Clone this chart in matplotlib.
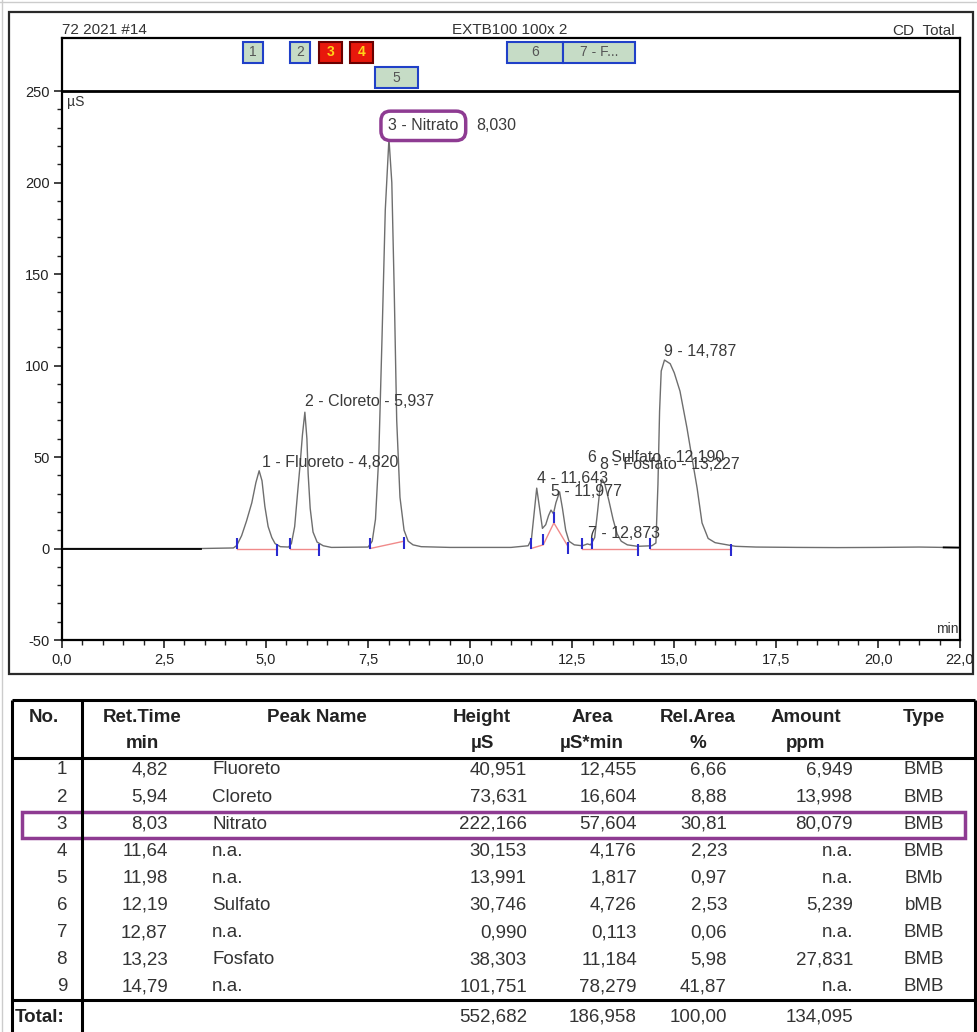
import matplotlib
matplotlib.use("Agg")
import matplotlib.pyplot as plt
from matplotlib.patches import Rectangle
from matplotlib.ticker import FixedLocator, FuncFormatter

plt.rcParams['font.family'] = ['Liberation Sans', 'DejaVu Sans']

# ---- cromatograma (tempo em min, sinal em uS) ----
trace_t = [0.0, 3.4, 4.2, 4.28, 4.4, 4.52, 4.65, 4.75, 4.83, 4.9, 4.97, 5.05, 5.14, 5.22, 5.35,
           5.55, 5.62, 5.7, 5.77, 5.83, 5.89, 5.95, 6.0, 6.03, 6.08, 6.15, 6.25, 6.4, 6.6,
           7.5, 7.6, 7.68, 7.76, 7.84, 7.92, 8.01, 8.08, 8.14, 8.2, 8.28, 8.38, 8.48, 8.6, 8.8,
           9.5, 11.0, 11.42, 11.5, 11.57, 11.63, 11.7, 11.77, 11.85, 11.92, 11.98, 12.04, 12.1,
           12.19, 12.26, 12.34, 12.42, 12.55, 12.75, 12.87, 12.95, 13.05, 13.12, 13.18, 13.23,
           13.3, 13.4, 13.5, 13.6, 13.7, 13.85, 14.1, 14.45, 14.55, 14.6, 14.64, 14.68, 14.76,
           14.9, 15.0, 15.14, 15.31, 15.43, 15.56, 15.68, 15.83, 16.0, 16.12, 16.5, 17.0, 18.0,
           19.0, 20.0, 21.0, 21.6, 22.0]
trace_y = [0.0, 0.0, 0.3, 1.6, 7, 15, 25, 36, 42.5, 37, 23, 12, 6, 2.7, 1.0,
           0.8, 2.7, 12, 30, 45, 62, 74.5, 60, 41, 22, 9, 3.5, 1.5, 0.6,
           0.8, 4, 16, 50, 115, 185, 224, 200, 140, 70, 28, 10, 4, 2, 1.0,
           0.6, 0.6, 1.5, 5, 20, 33, 22, 11, 13, 18, 21, 19, 25,
           31, 22, 10, 4, 2, 1.5, 2.5, 2, 6, 20, 33, 38,
           35, 26, 16, 8, 4, 2, 1.2, 1.5, 3, 35, 75, 97, 103,
           101, 96, 86, 66, 50, 33, 14, 5.5, 3.2, 2.7, 1.2, 0.8, 0.6,
           0.5, 0.6, 0.8, 0.6, 0.5]

# marcas de integracao (tempo, nivel da linha de base, 1 = inicio, 0 = fim)
mark_t = [4.28, 5.27, 5.58, 6.3, 7.55, 8.38, 11.49, 11.79, 12.05, 12.4, 12.73, 12.98, 14.1, 14.4, 16.4]
mark_base = [0, 0, 0, 0, 0, 4, 0, 2, 14, 1, 0, 0, 0, 0, 0]
mark_start = [1, 0, 1, 0, 1, 0, 1, 1, 1, 0, 1, 1, 0, 1, 0]

# linhas de base (vermelhas)
base_t = [[4.28, 5.27], [5.58, 6.3], [7.55, 8.38], [11.49, 11.79, 12.05, 12.4], [12.73, 12.98, 14.1], [14.4, 16.4]]
base_y = [[0, 0], [0, 0], [0, 4], [0, 2, 14, 1], [0, 0, 0], [0, 0]]

# rotulos dos picos
lab_text = ["1 - Fluoreto - 4,820", "2 - Cloreto - 5,937", "4 - 11,643", "5 - 11,977",
            "6 - Sulfato - 12,190", "7 - 12,873", "8 - Fosfato - 13,227", "9 - 14,787"]
lab_t = [4.90, 5.95, 11.64, 11.98, 12.89, 12.89, 13.18, 14.75]
lab_y = [47, 80.5, 38, 31, 50, 8, 46, 107.5]

# janelas dos picos (faixa acima do grafico)
win_label = ['1', '2', '3', '4', '5', '6', '7 - F...']
win_start = [4.43, 5.59, 6.30, 7.06, 7.67, 10.90, 12.27]
win_end = [4.92, 6.08, 6.86, 7.62, 8.72, 12.27, 14.04]
win_row = [0, 0, 0, 0, 1, 0, 0]
win_red = [False, False, True, True, False, False, False]

# ---- tabela ----
peak_no = [1, 2, 3, 4, 5, 6, 7, 8, 9]
ret_time = [4.82, 5.94, 8.03, 11.64, 11.98, 12.19, 12.87, 13.23, 14.79]
peak_name = ['Fluoreto', 'Cloreto', 'Nitrato', 'n.a.', 'n.a.', 'Sulfato', 'n.a.', 'Fosfato', 'n.a.']
height = [40.951, 73.631, 222.166, 30.153, 13.991, 30.746, 0.990, 38.303, 101.751]
area = [12.455, 16.604, 57.604, 4.176, 1.817, 4.726, 0.113, 11.184, 78.279]
rel_area = [6.66, 8.88, 30.81, 2.23, 0.97, 2.53, 0.06, 5.98, 41.87]
amount = [6.949, 13.998, 80.079, None, None, 5.239, None, 27.831, None]
ptype = ['BMB', 'BMB', 'BMB', 'BMB', 'BMb', 'bMB', 'BMB', 'BMB', 'BMB']
totals = ['552,682', '186,958', '100,00', '134,095']

roxo = '#8e3b92'


def virg(v, nd):
    if v is None:
        return 'n.a.'
    return f"{v:.{nd}f}".replace('.', ',')


fig = plt.figure(figsize=(9.78, 10.32), dpi=100)

# eixo em pixels para moldura e tabela
pix = fig.add_axes([0, 0, 1, 1])
pix.set_xlim(0, 978)
pix.set_ylim(1032, 0)
pix.axis('off')

ax = fig.add_axes([62 / 978, 1 - 640 / 1032, (960 - 62) / 978, (640 - 38) / 1032])
ax.set_xlim(0, 22)
ax.set_ylim(-50, 279)
ax.patch.set_alpha(0)

# traco
ax.plot(trace_t, trace_y, color='#6e6e6e', lw=1.0, zorder=3)
ax.plot(trace_t[:2], trace_y[:2], color='black', lw=1.3, zorder=4)
ax.plot(trace_t[-2:], trace_y[-2:], color='black', lw=1.3, zorder=4)

for bt, by in zip(base_t, base_y):
    ax.plot(bt, by, color='#f08a8a', lw=1.0, zorder=2)

for t, b, s in zip(mark_t, mark_base, mark_start):
    if s:
        ax.vlines(t, b, b + 6, color='#2a2ad0', lw=1.5, zorder=5)
    else:
        ax.vlines(t, b - 4, b + 2.5, color='#2a2ad0', lw=1.5, zorder=5)

for txt, t, y in zip(lab_text, lab_t, lab_y):
    ax.text(t, y, txt, fontsize=11.5, color='#3a3a3a', ha='left', va='center', zorder=6)

ax.text(7.99, 231, "3 - Nitrato", fontsize=11.5, color='#3a3a3a', ha='left', va='center', zorder=6,
        bbox=dict(boxstyle='round,pad=0.45,rounding_size=0.6', fc='white', ec=roxo, lw=2.5))
ax.text(10.14, 231, "8,030", fontsize=11.5, color='#3a3a3a', ha='left', va='center', zorder=6)

# janelas
for lab, a, b, r, red in zip(win_label, win_start, win_end, win_row, win_red):
    y0 = 265.6 if r == 0 else 251.9
    fc = '#e8180c' if red else '#c6dcc6'
    ec = '#6a0000' if red else '#2040c8'
    tc = '#ffd21a' if red else '#555555'
    ax.add_patch(Rectangle((a, y0), b - a, 11, fc=fc, ec=ec, lw=1.5, zorder=5, clip_on=False))
    ax.text((a + b) / 2, y0 + 5.5, lab, fontsize=10, color=tc, ha='center', va='center',
            zorder=6, fontweight='bold' if red else 'normal')

ax.axhline(250, color='black', lw=2.0, zorder=4)

ax.text(0.12, 244, "µS", fontsize=10, color='#333', ha='left', va='center')
ax.text(21.97, -44, "min", fontsize=10, color='#333', ha='right', va='center')

for sp in ax.spines.values():
    sp.set_linewidth(1.6)

ax.set_xticks([0, 2.5, 5, 7.5, 10, 12.5, 15, 17.5, 20, 22])
ax.xaxis.set_minor_locator(FixedLocator([i * 0.5 for i in range(45)]))
ax.set_yticks([-50, 0, 50, 100, 150, 200, 250])
ax.yaxis.set_minor_locator(FixedLocator(list(range(-50, 251, 10))))
ax.xaxis.set_major_formatter(FuncFormatter(lambda v, p: virg(v, 1)))
ax.yaxis.set_major_formatter(FuncFormatter(lambda v, p: f"{int(v)}"))
ax.tick_params(which='major', length=6, width=1.2, labelsize=10.5, colors='#222', pad=3)
ax.tick_params(which='minor', length=3.5, width=1.0, colors='#222')

# cabecalho e moldura do grafico
pix.text(62, 30, "72 2021 #14", fontsize=11, color='#333', ha='left', va='center')
pix.text(510, 30, "EXTB100 100x 2", fontsize=11, color='#333', ha='center', va='center')
pix.text(955, 30, "CD_Total", fontsize=11, color='#333', ha='right', va='center')
pix.add_patch(Rectangle((9, 12), 964, 662, fill=False, ec='#2a2a2a', lw=1.6))
pix.plot([2, 2], [0, 1032], color='#cccccc', lw=1)
pix.plot([0, 978], [2, 2], color='#cccccc', lw=1)

# tabela
k = dict(color='black', lw=2.2, solid_capstyle='butt')
pix.plot([12, 975], [700, 700], **k)
pix.plot([12, 975], [758, 758], **k)
pix.plot([12, 975], [1000, 1000], **k)
pix.plot([12, 12], [700, 1032], **k)
pix.plot([975, 975], [700, 1032], **k)
pix.plot([82, 82], [700, 1032], **k)

fs = 13.5
hdr1 = ["No.", "Ret.Time", "Peak Name", "Height", "Area", "Rel.Area", "Amount", "Type"]
hdr2 = ["", "min", "", "µS", "µS*min", "%", "ppm", ""]
hx = [44, 142, 317, 482, 592, 698, 806, 924]
for h1, h2, x in zip(hdr1, hdr2, hx):
    pix.text(x, 717, h1, fontsize=fs, fontweight='bold', ha='center', va='center', color='#222')
    pix.text(x, 743, h2, fontsize=fs, fontweight='bold', ha='center', va='center', color='#222')

for i in range(len(peak_no)):
    y = 770 + i * 27.1
    pix.text(67, y, str(peak_no[i]), fontsize=fs, ha='right', va='center', color='#333')
    pix.text(168, y, virg(ret_time[i], 2), fontsize=fs, ha='right', va='center', color='#333')
    pix.text(212, y, peak_name[i], fontsize=fs, ha='left', va='center', color='#333')
    pix.text(527, y, virg(height[i], 3), fontsize=fs, ha='right', va='center', color='#333')
    pix.text(637, y, virg(area[i], 3), fontsize=fs, ha='right', va='center', color='#333')
    pix.text(727, y, virg(rel_area[i], 2), fontsize=fs, ha='right', va='center', color='#333')
    pix.text(853, y, virg(amount[i], 3), fontsize=fs, ha='right', va='center', color='#333')
    pix.text(924, y, ptype[i], fontsize=fs, ha='center', va='center', color='#333')

pix.text(15, 1017, "Total:", fontsize=fs, fontweight='bold', ha='left', va='center', color='#222')
for v, x in zip(totals, [527, 637, 727, 853]):
    pix.text(x, 1017, v, fontsize=fs, ha='right', va='center', color='#333')

pix.add_patch(Rectangle((22, 812), 943, 26, fill=False, ec=roxo, lw=2.5))

fig.savefig("out.png", dpi=100)
